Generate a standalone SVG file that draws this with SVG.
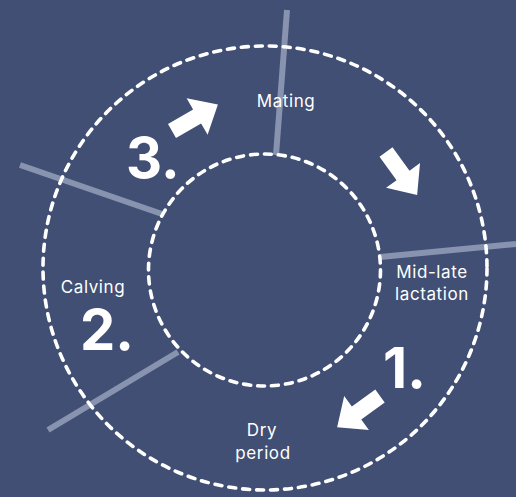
<svg xmlns="http://www.w3.org/2000/svg" width="516" height="497" viewBox="0 0 516 497">
  <defs>
    <style>
      .ring { fill: none; stroke: #ffffff; stroke-width: 3.6; stroke-dasharray: 7 7; stroke-linecap: round; }
      .divider { stroke: #8893b0; stroke-width: 6; }
      .label { fill: #ffffff; font-family: "Inter", "Open Sans", sans-serif; font-size: 17px; letter-spacing: 0.6px; text-anchor: middle; }
      .step { fill: #ffffff; font-family: "Inter", "Open Sans", sans-serif; font-size: 56px; font-weight: 700; }
      .arrow { fill: #ffffff; }
    </style>
    <!-- arrow pointing along +x, tail at origin -->
    <polygon id="arr" points="0,-8 29,-8 29,-21 53,0 29,21 29,8 0,8"/>
  </defs>

  <rect width="516" height="497" fill="#404f73"/>

  <g id="connectors">
    <line class="divider" x1="287" y1="10" x2="276" y2="155"/>
    <line class="divider" x1="20" y1="165" x2="162" y2="214"/>
    <line class="divider" x1="380" y1="257" x2="516" y2="244"/>
    <line class="divider" x1="48" y1="430" x2="178" y2="352"/>
  </g>

  <g id="rings">
    <circle class="ring" cx="265" cy="268" r="222"/>
    <circle class="ring" cx="264.5" cy="270" r="116"/>
  </g>

  <g id="mating">
    <text class="label" x="286" y="107">Mating</text>
  </g>
  <g id="mid-late-lactation">
    <text class="label" x="432" y="278">Mid-late</text>
    <text class="label" x="432" y="300">lactation</text>
  </g>
  <g id="dry-period">
    <text class="label" x="262" y="436">Dry</text>
    <text class="label" x="263" y="459">period</text>
  </g>
  <g id="calving">
    <text class="label" x="93" y="293">Calving</text>
  </g>

  <g id="step-1">
    <text class="step" x="383" y="388">1.</text>
    <use href="#arr" class="arrow" transform="translate(380,396) rotate(144)"/>
  </g>
  <g id="step-2">
    <text class="step" x="80" y="350">2.</text>
  </g>
  <g id="step-3">
    <text class="step" x="126" y="178">3.</text>
    <use href="#arr" class="arrow" transform="translate(172,131) rotate(-30)"/>
  </g>
  <g id="step-4">
    <use href="#arr" class="arrow" transform="translate(386,152) rotate(54)"/>
  </g>
</svg>
